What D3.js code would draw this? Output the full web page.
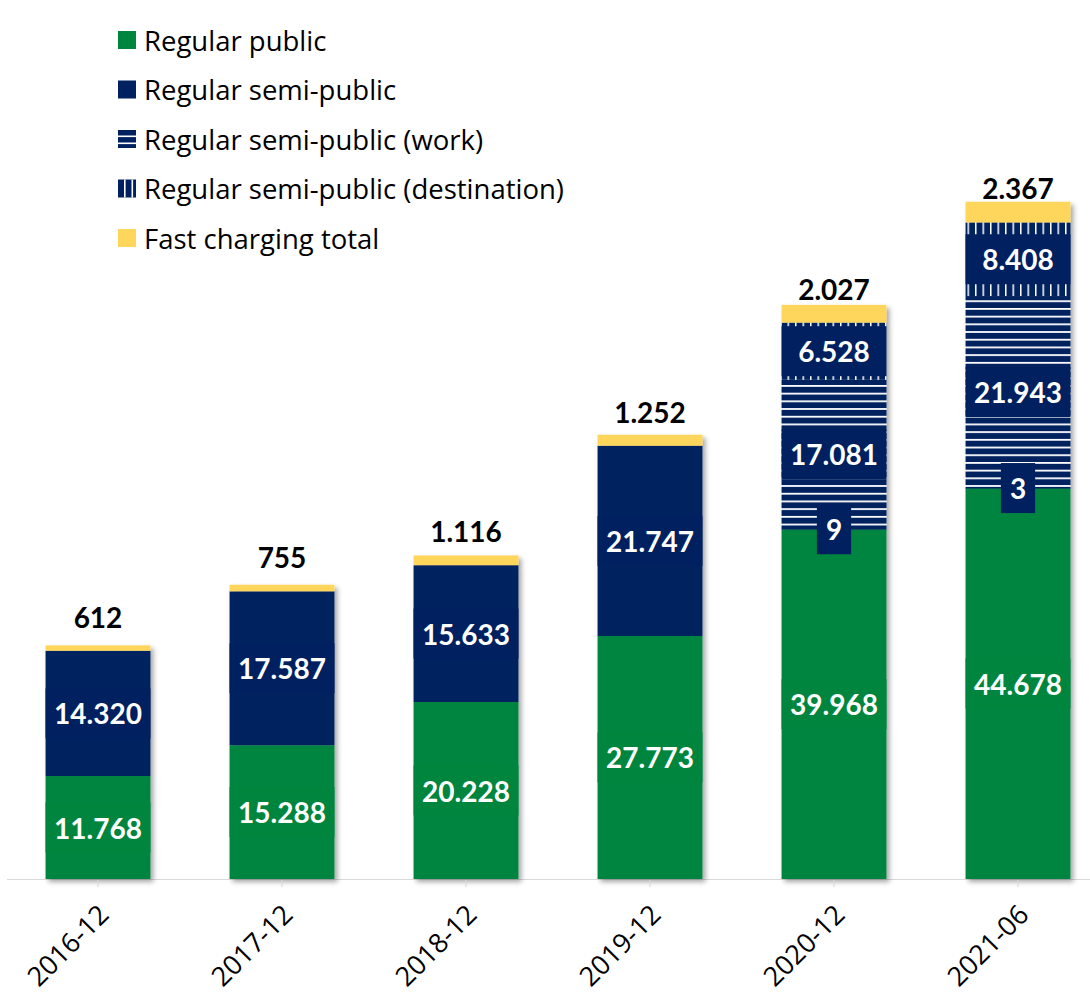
<!DOCTYPE html>
<html>
<head>
<meta charset="utf-8">
<script src="https://cdn.jsdelivr.net/npm/d3@7"></script>
<style>
  body { margin: 0; background: #fff; }
  svg { display: block; font-family: Lato, "Open Sans", sans-serif; }
</style>
</head>
<body>
<div id="chart"></div>
<script>
// data
const categories = ["2016-12", "2017-12", "2018-12", "2019-12", "2020-12", "2021-06"];
const regularPublic = [11768, 15288, 20228, 27773, 39968, 44678];
const semiPublic = [14320, 17587, 15633, 21747, 9, 3];
const semiWork = [0, 0, 0, 0, 17081, 21943];
const semiDest = [0, 0, 0, 0, 6528, 8408];
const fastTotal = [612, 755, 1116, 1252, 2027, 2367];
const seriesNames = [
  "Regular public",
  "Regular semi-public",
  "Regular semi-public (work)",
  "Regular semi-public (destination)",
  "Fast charging total"
];

const green = "#00853f", navy = "#00205f", yellow = "#ffd65c";
const keys = ["pub", "semi", "work", "dest", "fast"];

let data = categories.map((c, i) => ({
  cat: c,
  pub: regularPublic[i],
  semi: semiPublic[i],
  work: semiWork[i],
  dest: semiDest[i],
  fast: fastTotal[i]
}));

let W = 1090, H = 1008;
let svg = d3.select("#chart").append("svg").attr("width", W).attr("height", H);

let nl = d3.formatLocale({ decimal: ",", thousands: ".", grouping: [3], currency: ["", ""] });
let fmt = nl.format(",d");

// patterns + shadow
let defs = svg.append("defs");
let ph = defs.append("pattern").attr("id", "hstripe")
  .attr("patternUnits", "userSpaceOnUse").attr("width", 10).attr("height", 7.7);
ph.append("rect").attr("width", 10).attr("height", 7.7).attr("fill", navy);
ph.append("rect").attr("y", 0).attr("width", 10).attr("height", 1.8).attr("fill", "#fff");
let pv = defs.append("pattern").attr("id", "vstripe")
  .attr("patternUnits", "userSpaceOnUse").attr("width", 7.5).attr("height", 10);
pv.append("rect").attr("width", 7.5).attr("height", 10).attr("fill", navy);
pv.append("rect").attr("x", 0).attr("width", 1.5).attr("height", 10).attr("fill", "#fff");
let shadow = defs.append("filter").attr("id", "shadow")
  .attr("x", "-20%").attr("y", "-5%").attr("width", "140%").attr("height", "110%");
shadow.append("feDropShadow").attr("dx", 3).attr("dy", 3).attr("stdDeviation", 2.5)
  .attr("flood-color", "#000").attr("flood-opacity", 0.35);

let fills = { pub: green, semi: navy, work: "url(#hstripe)", dest: "url(#vstripe)", fast: yellow };

// scales
let x = d3.scaleBand().domain(categories).range([6, 1110]).paddingInner(0.43).paddingOuter(0.215);
let y = d3.scaleLinear().domain([0, 80000]).range([879, 179]);

let stacked = d3.stack().keys(keys)(data);

// axis line
svg.append("line").attr("x1", 7).attr("x2", W).attr("y1", 879.5).attr("y2", 879.5)
  .attr("stroke", "#d9d9d9").attr("stroke-width", 1.2);

// bars
let bars = svg.append("g");
categories.forEach((c, i) => {
  let g = bars.append("g").attr("filter", "url(#shadow)");
  stacked.forEach(s => {
    let d = s[i];
    if (d[1] - d[0] <= 0) return;
    g.append("rect")
      .attr("x", x(c))
      .attr("width", x.bandwidth())
      .attr("y", y(d[1]))
      .attr("height", Math.max(0.5, y(d[0]) - y(d[1])))
      .attr("fill", fills[s.key]);
  });
});

// ticks
svg.append("g").selectAll("line").data(categories).join("line")
  .attr("x1", d => x(d) + x.bandwidth() / 2).attr("x2", d => x(d) + x.bandwidth() / 2)
  .attr("y1", 880).attr("y2", 887).attr("stroke", "#d9d9d9").attr("stroke-width", 1.2);

// value labels
let labels = svg.append("g").attr("font-weight", "bold").attr("font-size", 28);
stacked.forEach(s => {
  if (s.key === "fast") return;
  s.forEach((d, i) => {
    let v = d.data[s.key];
    if (!v) return;
    let cx = x(categories[i]) + x.bandwidth() / 2;
    let cy = (y(d[0]) + y(d[1])) / 2;
    let lg = labels.append("g");
    let boxColor = s.key === "pub" ? green : navy;
    let box = lg.append("rect").attr("fill", boxColor);
    let t = lg.append("text")
      .attr("x", cx).attr("y", cy)
      .attr("text-anchor", "middle")
      .attr("dominant-baseline", "central")
      .attr("fill", "#fff")
      .text(fmt(v));
    let tw = t.node().getComputedTextLength();
    let bw = tw + 18 > x.bandwidth() * 0.6 ? x.bandwidth() : tw + 18;
    box.attr("x", cx - bw / 2).attr("width", bw).attr("y", cy - 25).attr("height", 50);
  });
});

// fast charging totals above bars
let fastS = stacked.find(s => s.key === "fast");
svg.append("g").selectAll("text").data(fastS).join("text")
  .attr("x", (d, i) => x(categories[i]) + x.bandwidth() / 2)
  .attr("y", d => y(d[0]) - 23)
  .attr("text-anchor", "middle")
  .attr("font-weight", "bold")
  .attr("font-size", 28)
  .attr("fill", "#000")
  .text(d => fmt(d.data.fast));

// category labels
svg.append("g").selectAll("text").data(categories).join("text")
  .attr("transform", d => "translate(" + (x(d) + x.bandwidth() / 2 + 5) + ",909) rotate(-45)")
  .attr("text-anchor", "end")
  .attr("dominant-baseline", "central")
  .attr("font-family", "'Open Sans', sans-serif")
  .attr("font-size", 27)
  .attr("fill", "#000")
  .text(d => d);

// legend
let legend = svg.append("g");
seriesNames.forEach((name, i) => {
  let cy = 40 + i * 49.5;
  let g = legend.append("g").attr("transform", "translate(118," + (cy - 9) + ")");
  if (i === 0 || i === 1 || i === 4) {
    g.append("rect").attr("width", 18).attr("height", 18).attr("fill", [green, navy, null, null, yellow][i]);
  } else if (i === 2) {
    g.append("rect").attr("width", 18).attr("height", 18).attr("fill", navy);
    [5.5, 12.5].forEach(yy => g.append("rect").attr("y", yy).attr("width", 18).attr("height", 1.6).attr("fill", "#fff"));
  } else {
    g.append("rect").attr("width", 18).attr("height", 18).attr("fill", navy);
    [6, 13.5].forEach(xx => g.append("rect").attr("x", xx).attr("width", 1.6).attr("height", 18).attr("fill", "#fff"));
  }
  legend.append("text")
    .attr("x", 144).attr("y", cy)
    .attr("dominant-baseline", "central")
    .attr("font-family", "'Open Sans', sans-serif")
    .attr("font-size", 27.5)
    .attr("fill", "#000")
    .text(name);
});
</script>
</body>
</html>
